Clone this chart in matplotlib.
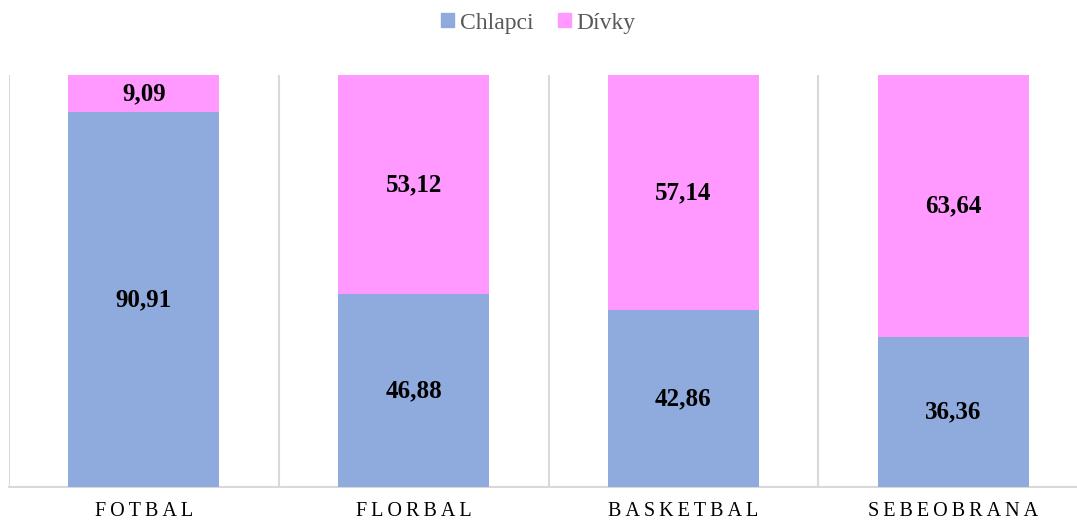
import numpy as np
import matplotlib.pyplot as plt
from matplotlib.patches import Patch

# data
kategorie = ['FOTBAL', 'FLORBAL', 'BASKETBAL', 'SEBEOBRANA']
chlapci = [90.91, 46.88, 42.86, 36.36]
divky = [9.09, 53.12, 57.14, 63.64]

plt.rcParams['font.family'] = ['Liberation Serif', 'DejaVu Serif']

fig = plt.figure(figsize=(10.77, 5.22), dpi=100)
ax = fig.add_axes([9 / 1077, 35 / 522, 1079 / 1077, 412 / 522])

x = np.arange(len(kategorie))
w = 0.56
modra = '#8faadc'
ruzova = '#ff99ff'
ax.bar(x, chlapci, w, color=modra, zorder=3)
ax.bar(x, divky, w, bottom=chlapci, color=ruzova, zorder=3)

for i in range(len(kategorie)):
    ax.text(x[i], chlapci[i] / 2, f'{chlapci[i]:.2f}'.replace('.', ','),
            ha='center', va='center', fontsize=18, fontweight='bold', zorder=4)
    ax.text(x[i], chlapci[i] + divky[i] / 2, f'{divky[i]:.2f}'.replace('.', ','),
            ha='center', va='center', fontsize=18, fontweight='bold', zorder=4)

# svisle oddelovace mezi kategoriemi
for s in np.arange(-0.5, len(kategorie), 1):
    ax.axvline(s, color='#d9d9d9', lw=1.5, zorder=1)

ax.set_xlim(-0.5, len(kategorie) - 0.5)
ax.set_ylim(0, 100)
ax.set_yticks([])
ax.set_xticks(x)
ax.set_xticklabels(['\u2009'.join(k) for k in kategorie], fontsize=14.5)
ax.tick_params(axis='x', length=0, pad=11)
for side in ['top', 'right', 'left']:
    ax.spines[side].set_visible(False)
ax.spines['bottom'].set_color('#d9d9d9')
ax.spines['bottom'].set_linewidth(1.5)

handles = [Patch(color=modra, label='Chlapci'), Patch(color=ruzova, label='Dívky')]
fig.legend(handles=handles, loc='center', bbox_to_anchor=(0.5, 1 - 23 / 522), ncol=2,
           frameon=False, fontsize=17, handlelength=0.55, handleheight=0.55,
           handletextpad=0.25, columnspacing=1.0, labelcolor='#595959')

fig.savefig('out.png', dpi=100)
